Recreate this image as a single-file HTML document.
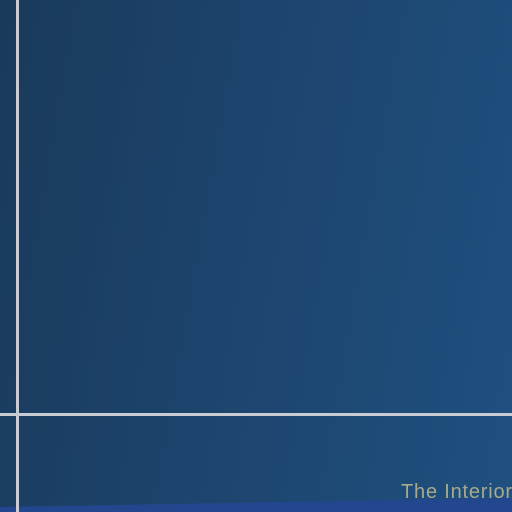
<!DOCTYPE html>
<html><head><style>
html,body{margin:0;padding:0;}
#c{position:relative;width:512px;height:512px;overflow:hidden;background:linear-gradient(100deg,#1a3a5c 0%,#1d4670 55%,#1f5080 100%);}
.l{position:absolute;background:#c9cdd3;}
</style></head><body>
<div id="c">
<svg width="512" height="512" style="position:absolute;left:0;top:0">
<polygon points="0,507 512,498 512,512 0,512" fill="#22478f"/>
</svg>
<div class="l" style="left:16px;top:0;width:3px;height:512px"></div>
<div class="l" style="left:0;top:413px;width:512px;height:3px"></div>
<div style="position:absolute;left:401px;top:481px;font:20px 'Liberation Sans',sans-serif;letter-spacing:0.8px;color:#a8a98c;white-space:nowrap">The Interior</div>
</div>
</body></html>
